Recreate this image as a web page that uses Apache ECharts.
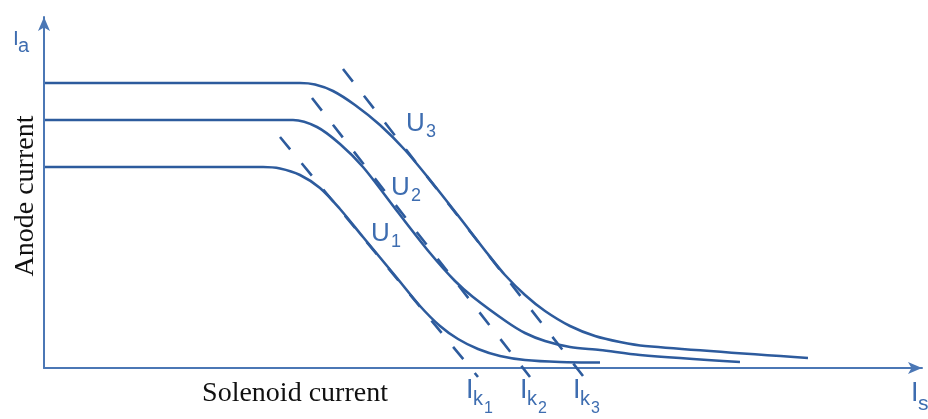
<!DOCTYPE html>
<html>
<head>
<meta charset="utf-8">
<script src="https://cdn.jsdelivr.net/npm/echarts@6/dist/echarts.min.js"></script>
<style>
html,body{margin:0;padding:0;background:#fff;}
#chart{width:928px;height:419px;}
</style>
</head>
<body>
<div id="chart"></div>
<script>
// Curves (solenoid current, anode current) in chart units
const curveU1 = [[1,201],[219,201],[236,199.5],[256,193],[276,180],[296,159],[319,131],[353,90],[376,62],[396,42],[414,29],[434,19],[456,12],[481,8],[516,6],[556,5.5]];
const curveU2 = [[1,248],[249,248],[273,241],[296,224],[319,201],[353,157],[386,115],[411,87],[429,71],[463,46],[481,35],[501,27],[526,21],[556,18],[596,13],[696,6]];
const curveU3 = [[1,285],[256,285],[271,283.5],[289,277],[311,263],[336,243],[361,218],[386,188],[416,150],[443,115],[461,93],[481,73],[501,57],[526,42],[551,32],[576,26],[601,22],[764,10]];
// Tangent lines (dashed) reaching the critical currents Ik1..Ik3
const tangent1 = [[236,231],[434,-9]];
const tangent2 = [[268,270],[486,-9]];
const tangent3 = [[299,299],[539,-8]];
// Texts
const curveNames = ['U','U','U'];
const curveSubs = ['1','2','3'];
const xAxisTitle = 'Solenoid current';
const yAxisTitle = 'Anode current';
const critNames = ['I','I','I'];
const critSubs = ['k','k','k'];
const critSubSubs = ['1','2','3'];

const curveColor = '#2d5b9d';
const axisColor = '#4b77b5';
const textBlue = '#3e6db0';

const chart = echarts.init(document.getElementById('chart'));

function txt(text, x, y, size, color, family, extra) {
  return {
    type: 'text',
    x: x, y: y,
    style: Object.assign({
      text: text,
      fill: color,
      fontSize: size,
      fontFamily: family || '"Liberation Sans", Arial, sans-serif',
      textAlign: 'left',
      textVerticalAlign: 'middle'
    }, extra || {})
  };
}
function sans(text, x, base, size) {
  return txt(text, x, base - 0.35 * size, size, textBlue);
}

const graphics = [];
graphics.push(sans('I', 13, 47, 21));
graphics.push(sans('a', 18, 53, 20));
graphics.push(sans('I', 911, 403, 27));
graphics.push(sans('s', 918, 412, 21));
const critX = [466, 520, 573];
for (let i = 0; i < 3; i++) {
  graphics.push(sans(critNames[i], critX[i], 400, 27));
  graphics.push(sans(critSubs[i], critX[i] + 7, 406, 20));
  graphics.push(sans(critSubSubs[i], critX[i] + 18, 414, 16));
}
const uX = [371, 391, 406];
const uBase = [243, 197, 133];
for (let i = 0; i < 3; i++) {
  graphics.push(sans(curveNames[i], uX[i], uBase[i], 26));
  graphics.push(sans(curveSubs[i], uX[i] + 20, uBase[i] + 5, 18));
}
graphics.push(txt(xAxisTitle, 295, 394, 28, '#111', '"Liberation Serif", "Times New Roman", serif', {textAlign: 'center'}));
graphics.push({
  type: 'text', x: 25.5, y: 196, rotation: Math.PI / 2,
  style: {text: yAxisTitle, fill: '#111', fontSize: 28, fontFamily: '"Liberation Serif", "Times New Roman", serif', textAlign: 'center', textVerticalAlign: 'middle'}
});

function curveSeries(data) {
  return {
    type: 'line', data: data, smooth: 0.3, showSymbol: false, symbol: 'none',
    lineStyle: {color: curveColor, width: 2.6}, z: 3, silent: true, clip: false
  };
}
function tangentSeries(data) {
  return {
    type: 'line', data: data, showSymbol: false, symbol: 'none',
    lineStyle: {color: curveColor, width: 2.6, type: [16, 18]}, z: 2, silent: true, clip: false
  };
}

chart.setOption({
  animation: false,
  grid: {left: 44, right: 6, top: 17, bottom: 51},
  xAxis: {
    type: 'value', min: 0, max: 878,
    axisLine: {show: true, symbol: ['none', 'arrow'], symbolSize: [9, 14], lineStyle: {color: axisColor, width: 2}},
    axisTick: {show: false}, axisLabel: {show: false}, splitLine: {show: false}
  },
  yAxis: {
    type: 'value', min: 0, max: 351,
    axisLine: {show: true, symbol: ['none', 'arrow'], symbolSize: [9, 14], lineStyle: {color: axisColor, width: 2}},
    axisTick: {show: false}, axisLabel: {show: false}, splitLine: {show: false}
  },
  series: [
    tangentSeries(tangent1), tangentSeries(tangent2), tangentSeries(tangent3),
    curveSeries(curveU1), curveSeries(curveU2), curveSeries(curveU3)
  ],
  graphic: graphics
});
</script>
</body>
</html>
